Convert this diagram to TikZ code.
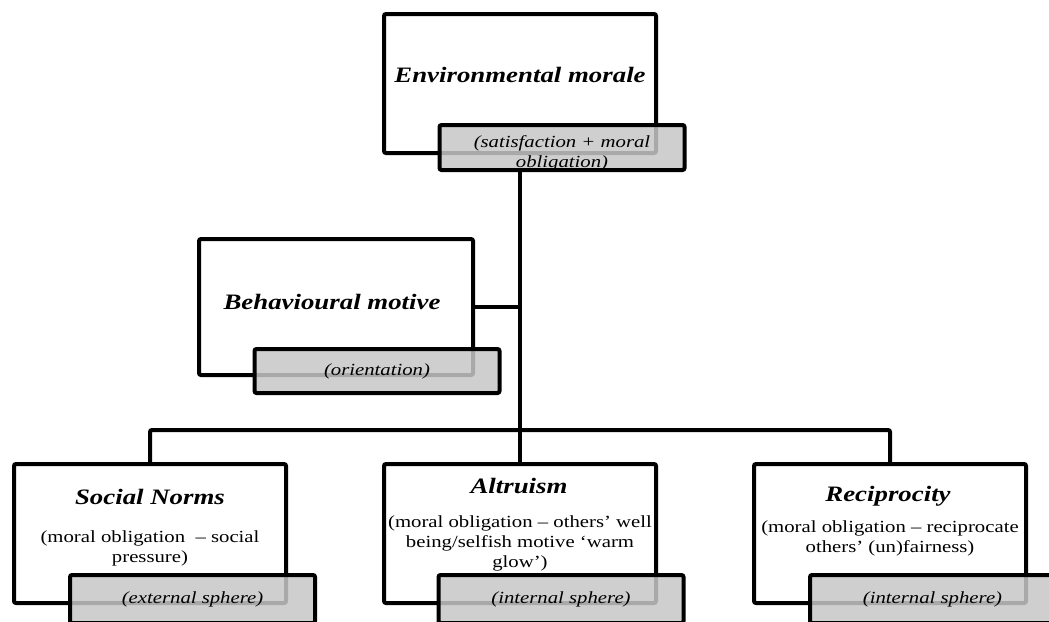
\documentclass[tikz,border=0pt]{standalone}
\usepackage{fontspec}
\setmainfont{Liberation Serif}[FakeStretch=1.22]
\begin{document}
\begin{tikzpicture}[x=1pt,y=-1pt,
			blk/.style={draw,line width=4pt,rounded corners=2pt,fill=white,minimum width=272pt,minimum height=139pt},
			tagbox/.style={draw,line width=4pt,rounded corners=2pt,fill=black!22,fill opacity=0.85,text opacity=1,minimum width=245pt,minimum height=45pt,align=center,font=\fontsize{17}{20}\selectfont\itshape},
			ttl/.style={font=\fontsize{#1}{#1}\selectfont\bfseries\itshape},
			ttl/.default=22,
			txt/.style={align=center,font=\fontsize{17}{20}\selectfont},
			note/.style={align=center,font=\fontsize{17}{20}\selectfont\itshape},
			wire/.style={line width=4pt,rounded corners=2pt},
			inner sep=0pt]
			\useasboundingbox (0,0) rectangle (1049,621);
			% top
			\node [blk]		(EnvBox)	at (520,83.5)		{};
			\node [ttl]		(EnvTitle)	at (520,75)		{Environmental morale};
			\node [tagbox]	(EnvTag)	at (562,147.5)		{};
				\node [note] (EnvNote) at (562,153)		{(satisfaction + moral\\obligation)};
			% middle
			\node [blk,minimum width=274pt,minimum height=136pt] (BehBox) at (336,307) {};
			\node [ttl]		(BehTitle)	at (332,302)		{Behavioural motive};
			\node [tagbox,minimum height=44pt] (BehTag) at (377,371) {(orientation)};
			% bottom row
			\node [blk]		(SocBox)	at (150,533.5)		{};
				\node [ttl]	(SocTitle)	at (150,497)		{Social Norms};
				\node [txt]	(SocText)	at (150,548)		{(moral obligation\ \ – social\\pressure)};
				\node [tagbox,minimum height=48pt] (SocTag) at (192.5,599) {(external sphere)};
			\node [blk]		(AltBox)	at (520,533.5)		{};
				\node [ttl]	(AltTitle)	at (519,486)		{Altruism};
				\node [txt]	(AltText)	at (520,543)		{(moral obligation – others’ well\\being/selfish motive ‘warm\\glow’)};
				\node [tagbox,minimum height=48pt] (AltTag) at (561,599) {(internal sphere)};
			\node [blk]		(RecBox)	at (890,533.5)		{};
				\node [ttl]	(RecTitle)	at (888,496)		{Reciprocity};
				\node [txt]	(RecText)	at (890,538)		{(moral obligation – reciprocate\\others’ (un)fairness)};
				\node [tagbox,minimum height=48pt] (RecTag) at (932.5,599) {(internal sphere)};
			% connectors
			\coordinate (split) at (520,430);
			\draw [wire] (EnvBox.center |- EnvTag.south) -- (AltBox.north);
			\draw [wire] (BehBox.east) -- (BehBox.east -| split);
			\draw [wire] (SocBox.north) -- (SocBox.north |- split) -- (RecBox.north |- split) -- (RecBox.north);
		\end{tikzpicture}
\end{document}
